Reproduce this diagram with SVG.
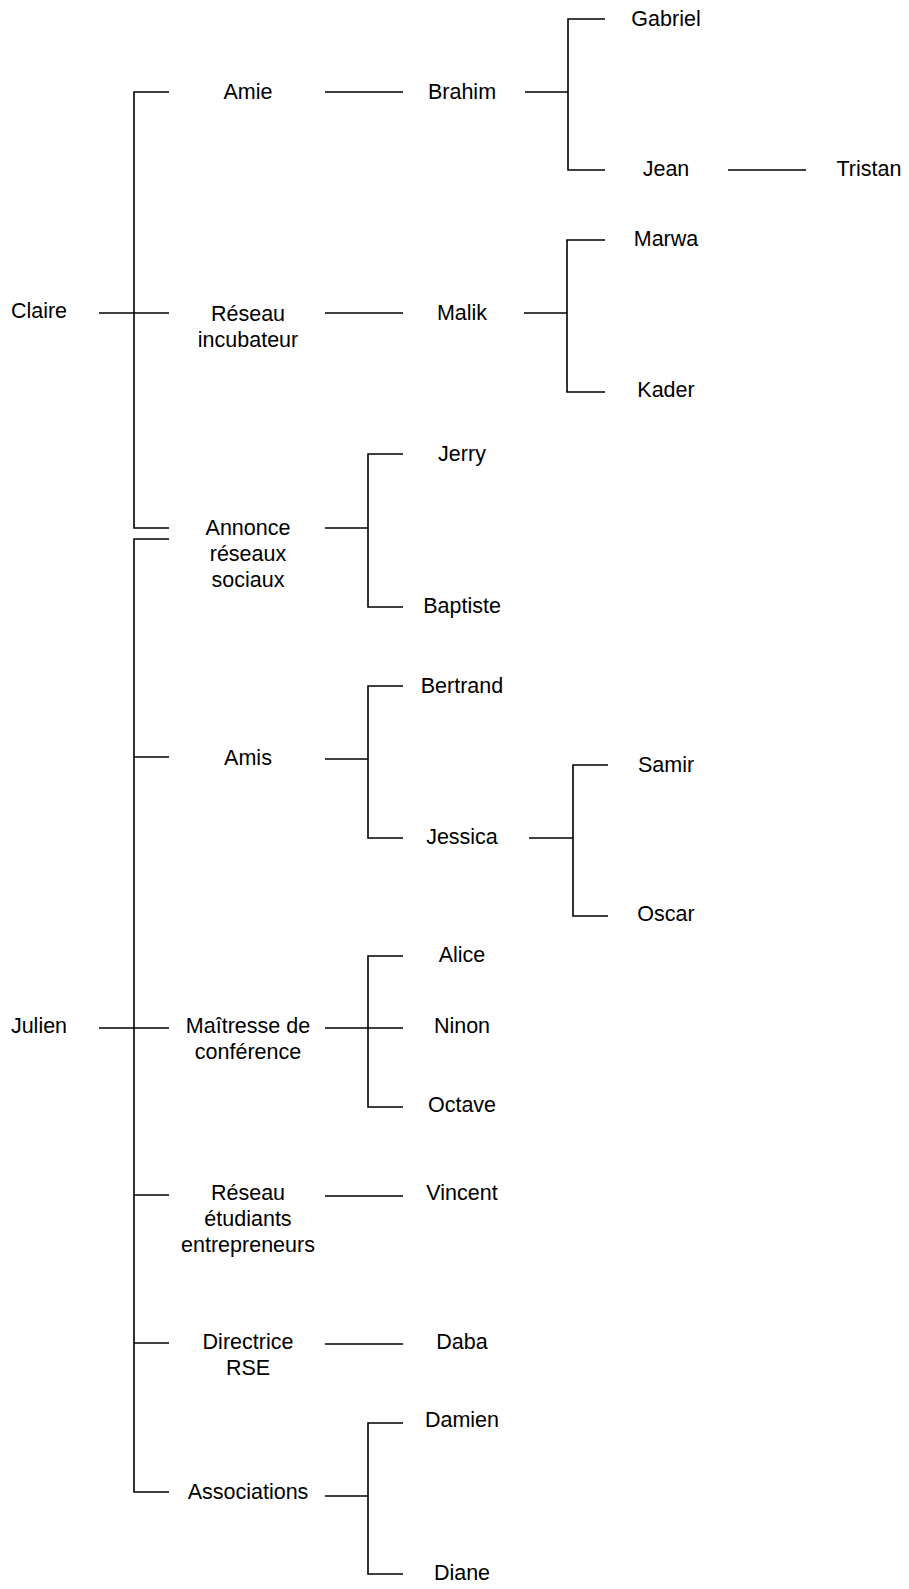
<svg xmlns="http://www.w3.org/2000/svg" width="909" height="1589" viewBox="0 0 909 1589">
<style>
text{font-family:"Liberation Sans",Arial,Helvetica,sans-serif;font-size:21.5px;fill:#000;text-anchor:middle}
.c path{fill:none;stroke:#000;stroke-width:1.6}
</style>
<rect width="909" height="1589" fill="#fff"/>
<g class="c" id="connectors">
<path d="M99,313 H169"/>
<path d="M169,92 H134 V528 H169"/>
<path d="M325,92 H403"/>
<path d="M525,92 H568"/>
<path d="M605,19 H568 V170 H605"/>
<path d="M728,170 H806"/>
<path d="M325,313 H403"/>
<path d="M524,313 H567"/>
<path d="M605,240 H567 V392 H605"/>
<path d="M325,528 H368"/>
<path d="M403,454 H368 V607 H403"/>
<path d="M169,539 H134 V1492 H169"/>
<path d="M134,757 H169"/>
<path d="M99,1028 H169"/>
<path d="M134,1195 H169"/>
<path d="M134,1343 H169"/>
<path d="M325,759 H368"/>
<path d="M403,686 H368 V838 H403"/>
<path d="M529,838 H573"/>
<path d="M608,765 H573 V916 H608"/>
<path d="M325,1028 H403"/>
<path d="M403,956 H368 V1107 H403"/>
<path d="M325,1196 H403"/>
<path d="M325,1344 H403"/>
<path d="M325,1496 H368"/>
<path d="M403,1423 H368 V1574 H403"/>
</g>
<g id="claire"><text x="39" y="318">Claire</text></g>
<g id="julien"><text x="39" y="1033">Julien</text></g>
<g id="amie"><text x="248" y="99">Amie</text></g>
<g id="reseau-incubateur"><text x="248" y="321">Réseau</text><text x="248" y="347">incubateur</text></g>
<g id="annonce"><text x="248" y="535">Annonce</text><text x="248" y="561">réseaux</text><text x="248" y="587">sociaux</text></g>
<g id="amis"><text x="248" y="765">Amis</text></g>
<g id="maitresse"><text x="248" y="1033">Maîtresse de</text><text x="248" y="1059">conférence</text></g>
<g id="reseau-etudiants"><text x="248" y="1200">Réseau</text><text x="248" y="1226">étudiants</text><text x="248" y="1252">entrepreneurs</text></g>
<g id="directrice"><text x="248" y="1349">Directrice</text><text x="248" y="1375">RSE</text></g>
<g id="associations"><text x="248" y="1499">Associations</text></g>
<g id="brahim"><text x="462" y="99">Brahim</text></g>
<g id="malik"><text x="462" y="320">Malik</text></g>
<g id="jerry"><text x="462" y="461">Jerry</text></g>
<g id="baptiste"><text x="462" y="613">Baptiste</text></g>
<g id="bertrand"><text x="462" y="693">Bertrand</text></g>
<g id="jessica"><text x="462" y="844">Jessica</text></g>
<g id="alice"><text x="462" y="962">Alice</text></g>
<g id="ninon"><text x="462" y="1033">Ninon</text></g>
<g id="octave"><text x="462" y="1112">Octave</text></g>
<g id="vincent"><text x="462" y="1200">Vincent</text></g>
<g id="daba"><text x="462" y="1349">Daba</text></g>
<g id="damien"><text x="462" y="1427">Damien</text></g>
<g id="diane"><text x="462" y="1580">Diane</text></g>
<g id="gabriel"><text x="666" y="26">Gabriel</text></g>
<g id="jean"><text x="666" y="176">Jean</text></g>
<g id="marwa"><text x="666" y="246">Marwa</text></g>
<g id="kader"><text x="666" y="397">Kader</text></g>
<g id="samir"><text x="666" y="772">Samir</text></g>
<g id="oscar"><text x="666" y="921">Oscar</text></g>
<g id="tristan"><text x="869" y="176">Tristan</text></g>
</svg>
